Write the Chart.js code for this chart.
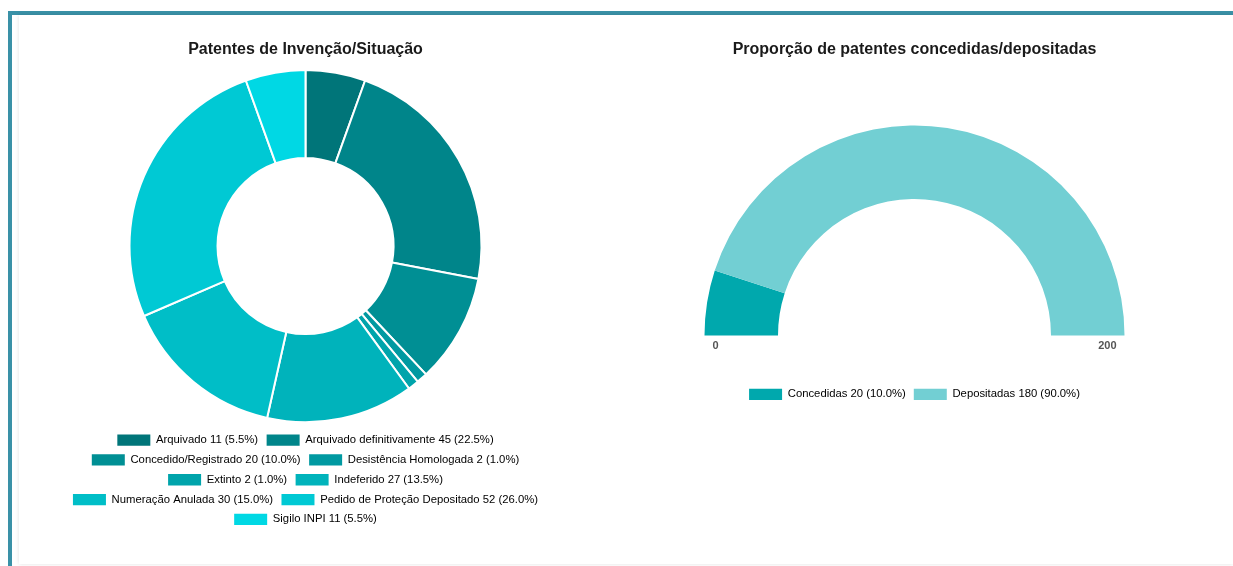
<!DOCTYPE html>
<html lang="pt-BR">
<head>
<meta charset="utf-8">
<title>Patentes</title>
<script src="https://cdn.jsdelivr.net/npm/chart.js@4/dist/chart.umd.min.js"></script>
<style>
  html, body { margin: 0; padding: 0; background: #fff; }
  body { width: 1233px; height: 566px; overflow: hidden; position: relative; font-family: Arial, "Liberation Sans", sans-serif; }
  .frame {
    position: absolute; left: 8px; top: 11px; right: 0; bottom: 0;
    border-top: 4px solid #3a91a7; border-left: 4px solid #3a91a7;
  }
  .card {
    position: absolute; left: 19px; top: 15px; right: 0; bottom: 2px;
    background: #fff;
    box-shadow: 0 0 4px rgba(0, 0, 0, 0.12);
  }
  canvas { position: absolute; }
  #situacao { left: 61px; top: 30px; }
  #proporcao { left: 665px; top: 30px; }
</style>
</head>
<body>
<div class="frame"></div>
<div class="card"></div>
<canvas id="situacao" width="489" height="505"></canvas>
<canvas id="proporcao" width="499" height="380"></canvas>
<script>
// Situação das patentes de invenção
const situacaoLabels = [
  'Arquivado',
  'Arquivado definitivamente',
  'Concedido/Registrado',
  'Desistência Homologada',
  'Extinto',
  'Indeferido',
  'Numeração Anulada',
  'Pedido de Proteção Depositado',
  'Sigilo INPI'
];
const situacaoValues = [11, 45, 20, 2, 2, 27, 30, 52, 11];
const situacaoColors = [
  '#007579', '#00858a', '#008f94', '#0099a1', '#00a4ab',
  '#00b3bb', '#00bec7', '#00c9d4', '#00d8e4'
];

// Concedidas x depositadas
const proporcaoLabels = ['Concedidas', 'Depositadas'];
const proporcaoValues = [20, 180];
const proporcaoColors = ['#00a8ad', '#72cfd3'];

Chart.defaults.font.family = 'Arial, "Liberation Sans", sans-serif';
Chart.defaults.color = '#333';

function sum(arr) { return arr.reduce((a, b) => a + b, 0); }

// Legend entries: "Rótulo valor (pct%)"
function legendWithValues(chart) {
  const ds = chart.data.datasets[0];
  const total = sum(ds.data);
  return chart.data.labels.map((label, i) => ({
    text: `${label} ${ds.data[i]} (${(ds.data[i] / total * 100).toFixed(1)}%)`,
    fillStyle: ds.backgroundColor[i],
    strokeStyle: ds.backgroundColor[i],
    lineWidth: 0,
    hidden: false,
    index: i
  }));
}

new Chart(document.getElementById('situacao'), {
  type: 'doughnut',
  data: {
    labels: situacaoLabels,
    datasets: [{
      data: situacaoValues,
      backgroundColor: situacaoColors,
      borderColor: '#ffffff',
      borderWidth: 2,
      radius: 176
    }]
  },
  options: {
    responsive: false,
    animation: false,
    cutout: '50%',
    plugins: {
      title: {
        display: true,
        text: 'Patentes de Invenção/Situação',
        color: '#1a1a1a',
        font: { size: 16, weight: 'bold' },
        padding: { top: 10, bottom: 7 }
      },
      legend: {
        position: 'bottom',
        labels: {
          boxWidth: 33,
          font: { size: 11.3 },
          color: '#333',
          padding: 8.5,
          generateLabels: legendWithValues
        }
      },
      tooltip: { enabled: false }
    }
  }
});

// Scale end labels under the gauge (0 and total)
const gaugeEnds = {
  id: 'gaugeEnds',
  afterDatasetsDraw(chart) {
    const arc = chart.getDatasetMeta(0).data[0];
    if (!arc) return;
    const { x, y, outerRadius } = arc.getProps(['x', 'y', 'outerRadius'], true);
    const total = sum(chart.data.datasets[0].data);
    const ctx = chart.ctx;
    ctx.save();
    ctx.font = 'bold 11px Arial, "Liberation Sans", sans-serif';
    ctx.fillStyle = '#555';
    ctx.textBaseline = 'middle';
    ctx.textAlign = 'left';
    ctx.fillText('0', x - outerRadius + 8, y + 10.5);
    ctx.textAlign = 'right';
    ctx.fillText(String(total), x + outerRadius - 8, y + 10.5);
    ctx.restore();
  }
};

new Chart(document.getElementById('proporcao'), {
  type: 'doughnut',
  data: {
    labels: proporcaoLabels,
    datasets: [{
      data: proporcaoValues,
      backgroundColor: proporcaoColors,
      borderWidth: 0,
      radius: 210
    }]
  },
  options: {
    responsive: false,
    animation: false,
    rotation: -90,
    circumference: 180,
    cutout: '65%',
    plugins: {
      title: {
        display: true,
        text: 'Proporção de patentes concedidas/depositadas',
        color: '#1a1a1a',
        font: { size: 16, weight: 'bold' },
        padding: { top: 10, bottom: 21 }
      },
      legend: {
        position: 'bottom',
        labels: {
          boxWidth: 33,
          font: { size: 11.3 },
          color: '#333',
          padding: 8,
          generateLabels: legendWithValues
        }
      },
      tooltip: { enabled: false }
    }
  },
  plugins: [gaugeEnds]
});
</script>
</body>
</html>
